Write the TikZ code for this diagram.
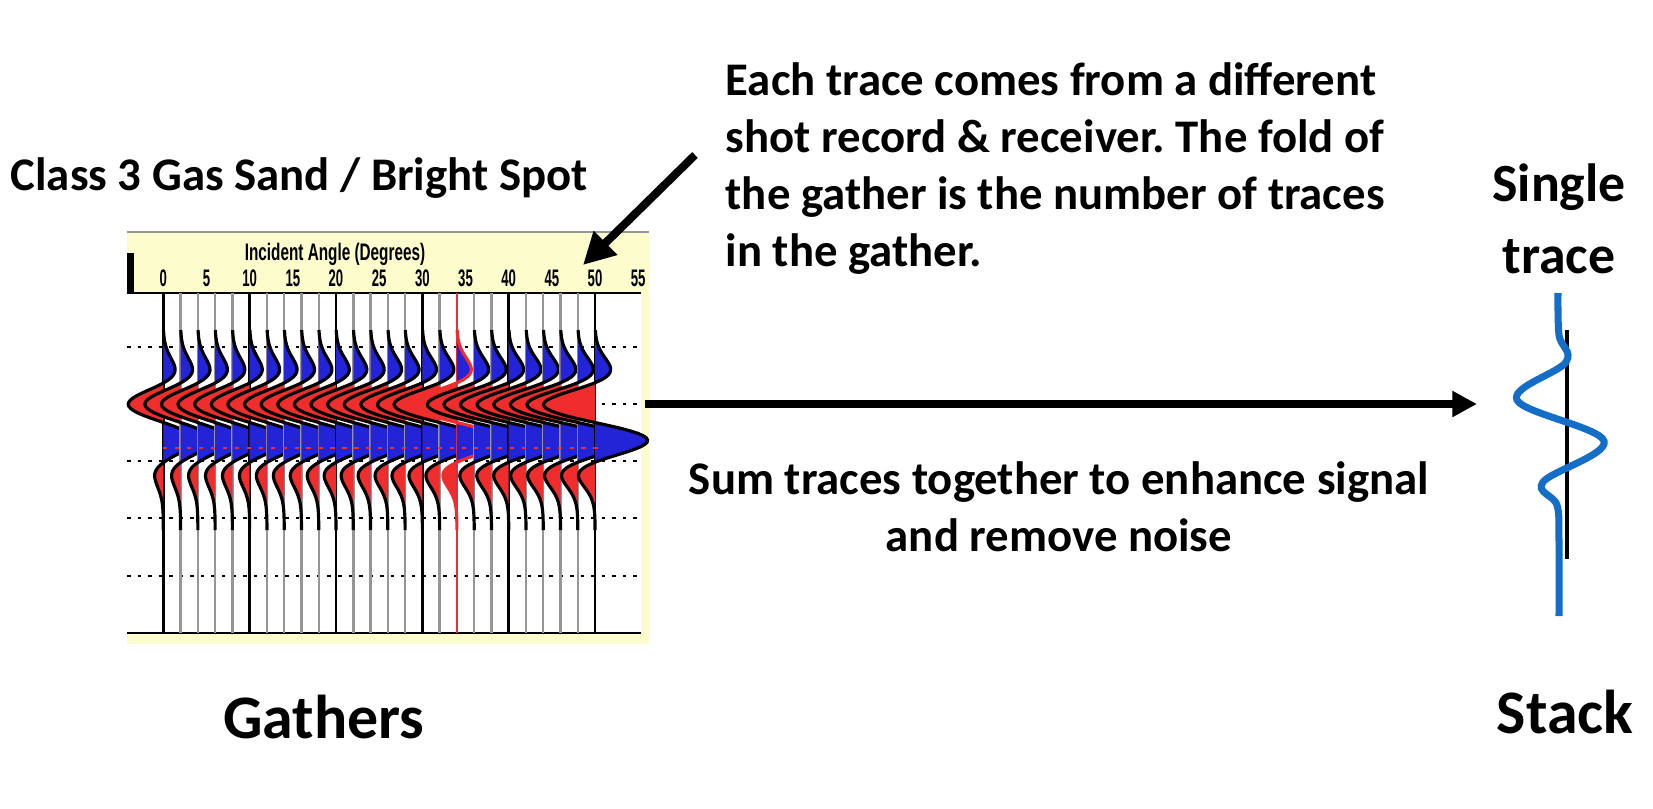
\documentclass[tikz,border=0pt]{standalone}
\usepackage{fontspec}
\setmainfont{Carlito}
\newfontfamily\axisfont{Liberation Sans}
\usetikzlibrary{arrows.meta}
\definecolor{gred}{RGB}{240,45,45}
\definecolor{gblue}{RGB}{35,35,215}
\definecolor{gyellow}{RGB}{252,252,204}
\definecolor{tgray}{RGB}{150,150,150}
\definecolor{stackblue}{RGB}{20,110,200}
\pgfmathdeclarefunction{ricker}{1}{\pgfmathparse{(1-2*(#1)*(#1))*exp(-(#1)*(#1))}}
\frenchspacing

\begin{document}
\begin{tikzpicture}[x=0.01cm, y=-0.01cm,
    label13/.style={font=\bfseries\fontsize{13.3}{16.2}\selectfont, inner sep=0},
    label17/.style={font=\bfseries\fontsize{17.6}{21}\selectfont, inner sep=0},
    axislbl/.style={font=\axisfont\bfseries\fontsize{6.8}{7}\selectfont, inner sep=0},
    gridline/.style={line width=0.8pt, dash pattern=on 1pt off 2pt},
    bigarrow/.style={line width=2pt, -{Triangle[length=7pt, width=7pt]}}]
  \useasboundingbox (0,0) rectangle (1653,808);
  \fill[white] (0,0) rectangle (1653,808);

  % gather panel
  \fill[gyellow] (127,232) rectangle (649,644);
  \draw[tgray, line width=0.6pt] (127,232) -- (649,232);
  \fill[white] (127,293) rectangle (641,633);
  \fill (127,253) rectangle (134,293);
  \draw[line width=0.7pt] (127,293) -- (641,293);
  \draw[line width=0.7pt] (127,633) -- (641,633);
  \foreach \t in {347,404,461,518,576}
    \draw[gridline] (127,\t) -- (641,\t);
  \node[axislbl] (axtitle) at (335,254) {\scalebox{0.64}[1]{Incident Angle (Degrees)}};
  \foreach \d in {0,5,...,55}
    \node[axislbl] (deg\d) at ({163.3+8.635*\d},278) {\scalebox{0.55}[1]{\d}};

  % traces
  \foreach \k in {0,...,25} {
    \pgfmathsetmacro{\xo}{163.3+17.27*\k}
    \pgfmathsetmacro{\ampA}{27+9*\k/25}
    \pgfmathsetmacro{\ampB}{20+18*\k/25}
    \pgfmathtruncatemacro{\ismajor}{mod(\k,5)==0}
    \ifnum\k=17 \def\tcol{gred}\def\wcol{gred}\else
      \ifnum\ismajor=1 \def\tcol{black}\else\def\tcol{tgray}\fi\def\wcol{black}\fi
    \draw[\tcol, line width=0.7pt] (\xo,293) -- (\xo,633);
    \begin{scope}
      \clip (\xo,320) rectangle ++(-90,220);
      \fill[gred] (\xo,330) -- plot[domain=330:530, samples=90]
        ({\xo-\ampA*ricker((\x-403)/27)+\ampB*ricker((\x-442)/27)}, \x) -- (\xo,530) -- cycle;
    \end{scope}
    \begin{scope}
      \clip (\xo,320) rectangle ++(90,220);
      \fill[gblue] (\xo,330) -- plot[domain=330:530, samples=90]
        ({\xo-\ampA*ricker((\x-403)/27)+\ampB*ricker((\x-442)/27)}, \x) -- (\xo,530) -- cycle;
    \end{scope}
    \draw[\wcol, line width=0.9pt] plot[domain=330:530, samples=90]
      ({\xo-\ampA*ricker((\x-403)/27)+\ampB*ricker((\x-442)/27)}, \x);
  }
  \draw[gred, line width=0.6pt, dash pattern=on 1.2pt off 2.2pt] (163,448) -- (600,448);

  % texts
  \node[label13, anchor=base west] (classnote) at (10,190) {Class 3 Gas Sand / Bright Spot};
  \node[label13, anchor=north west, align=left] (foldnote) at (725,62)
    {Each trace comes from a different\\shot record \& receiver. The fold of\\the gather is the number of traces\\in the gather.};
  \node[label13, anchor=north, align=center] (sumnote) at (1059,461)
    {Sum traces together to enhance signal\\and remove noise};
  \node[font=\bfseries\fontsize{15.3}{20.5}\selectfont, inner sep=0, anchor=north, align=center]
    (single) at (1559,163) {Single\\trace};
  \node[label17, anchor=base] (stack) at (1565,733) {Stack};
  \node[label17, anchor=base] (gathers) at (324,738) {Gathers};

  % arrows
  \coordinate (notefrom) at (695,155);
  \coordinate (noteto) at (583,265);
  \draw[line width=2.3pt, -{Triangle[length=9pt, width=9pt]}] (notefrom) -- (noteto);
  \coordinate (sumfrom) at (645,404);
  \coordinate (sumto) at (1477,404);
  \draw[bigarrow] (sumfrom) -- (sumto);

  % stacked trace
  \draw[line width=1.4pt] (1567,330) -- (1567,559);
  \draw[stackblue, line width=2pt] plot[smooth, tension=0.6] coordinates
    {(1558,293) (1559,335) (1566,362) (1517,400) (1604,441) (1543,482) (1557,505) (1559,540) (1559,616)};
\end{tikzpicture}
\end{document}
